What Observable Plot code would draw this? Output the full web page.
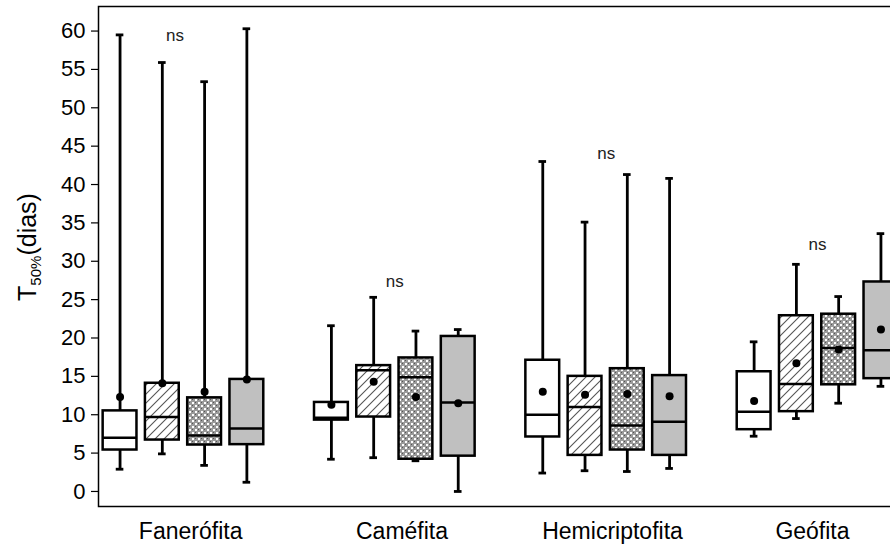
<!DOCTYPE html>
<html><head><meta charset="utf-8">
<script src="https://cdn.jsdelivr.net/npm/d3@7"></script>
<script src="https://cdn.jsdelivr.net/npm/@observablehq/plot@0.6"></script>
<style>
html,body{margin:0;padding:0;background:#fff;overflow:hidden;width:890px;height:544px;}
#chart svg{overflow:hidden;display:block;}
</style>
</head><body>
<svg width="0" height="0" style="position:absolute">
<defs>
<pattern id="hatch" patternUnits="userSpaceOnUse" width="9" height="9">
  <rect width="9" height="9" fill="white"/>
  <path d="M-1,1 l2,-2 M0,9 l9,-9 M8,10 l2,-2" stroke="#555" stroke-width="1.1"/>
</pattern>
<pattern id="dots" patternUnits="userSpaceOnUse" width="6" height="6">
  <rect width="6" height="6" fill="#9a9a9a"/>
  <rect x="0" y="0" width="2" height="2" fill="#ffffff"/>
  <rect x="3" y="3" width="2" height="2" fill="#ffffff"/>
  <rect x="3" y="0" width="1" height="1" fill="#555"/>
  <rect x="0" y="3" width="1" height="1" fill="#555"/>
</pattern>
</defs></svg>
<div id="chart"></div>
<script>
const groups = ["Fanerófita", "Caméfita", "Hemicriptofita", "Geófita"];
const series = ["s1", "s2", "s3", "s4"];
const whiskerLow  = [[2.9, 4.9, 3.4, 1.2], [4.2, 4.4, 4.0, 0.0], [2.4, 2.7, 2.6, 3.0], [7.2, 9.5, 11.5, 13.7]];
const q1          = [[5.4, 6.7, 6.05, 6.1], [9.3, 9.7, 4.2, 4.6], [7.1, 4.7, 5.4, 4.7], [8.05, 10.4, 13.9, 14.7]];
const median      = [[7.0, 9.7, 7.3, 8.2], [9.6, 15.8, 14.9, 11.6], [10.0, 11.0, 8.6, 9.1], [10.4, 14.0, 18.7, 18.4]];
const q3          = [[10.5, 14.1, 12.2, 14.6], [11.6, 16.4, 17.4, 20.2], [17.1, 15.0, 16.0, 15.1], [15.6, 22.9, 23.1, 27.3]];
const whiskerHigh = [[59.5, 55.9, 53.4, 60.3], [21.6, 25.3, 20.9, 21.1], [43.0, 35.1, 41.3, 40.8], [19.5, 29.6, 25.4, 33.6]];
const means       = [[12.3, 14.1, 13.0, 14.6], [11.3, 14.3, 12.3, 11.5], [13.0, 12.6, 12.7, 12.4], [11.8, 16.7, 18.5, 21.1]];
const nsText = ["ns", "ns", "ns", "ns"];
const nsY = [59.4, 27.3, 44.0, 32.2];
const nsPos = [1.3, 1.5, 1.5, 1.5];          // position inside group (series units)
const labelPos = [1.67, 1.67, 1.65, 1.38];   // group label position inside group
const yTicks = [0, 5, 10, 15, 20, 25, 30, 35, 40, 45, 50, 55, 60];

const fills = {s1: "white", s2: "url(#hatch)", s3: "url(#dots)", s4: "#c0c0c0"};
const slotsPerGroup = 5;

const rows = [];
groups.forEach((g, gi) => series.forEach((s, si) => rows.push({
  group: g, s, slot: gi * slotsPerGroup + si,
  lo: whiskerLow[gi][si], q1: q1[gi][si], med: median[gi][si],
  q3: q3[gi][si], hi: whiskerHigh[gi][si], mean: means[gi][si]
})));
const nsRows = groups.map((g, gi) => ({x: gi * slotsPerGroup + nsPos[gi], y: nsY[gi], t: nsText[gi]}));
const tickX = groups.map((g, gi) => gi * slotsPerGroup + labelPos[gi]);

const hw = 0.4, cap = 0.09;
const chart = Plot.plot({
  width: 890, height: 544,
  marginLeft: 98, marginRight: -12, marginTop: 6, marginBottom: 38,
  style: {fontFamily: "'Liberation Sans', Arial, sans-serif", color: "black", background: "white"},
  x: {domain: [-0.51, 18.51], axis: null},
  y: {domain: [-1.96, 63.2], axis: null},
  color: {type: "identity"},
  marks: [
    Plot.ruleX(rows, {x: "slot", y1: "lo", y2: "hi", stroke: "black", strokeWidth: 2.8}),
    Plot.ruleY(rows, {y: "lo", x1: d => d.slot - cap, x2: d => d.slot + cap, stroke: "black", strokeWidth: 2.8}),
    Plot.ruleY(rows, {y: "hi", x1: d => d.slot - cap, x2: d => d.slot + cap, stroke: "black", strokeWidth: 2.8}),
    Plot.rect(rows, {x1: d => d.slot - hw, x2: d => d.slot + hw, y1: "q1", y2: "q3",
      fill: d => fills[d.s], stroke: "black", strokeWidth: 2.5}),
    Plot.ruleY(rows, {y: "med", x1: d => d.slot - hw, x2: d => d.slot + hw, stroke: "black", strokeWidth: 2.5}),
    Plot.dot(rows, {x: "slot", y: "mean", r: 4, fill: "black", stroke: "none"}),
    Plot.text(nsRows, {x: "x", y: "y", text: "t", fontSize: 17, fill: "#222"}),
    Plot.axisY({ticks: yTicks, tickSize: 7, tickPadding: 6, fontSize: 22, label: null, strokeWidth: 1.2}),
    Plot.axisX({ticks: tickX, tickFormat: (d, i) => groups[i], tickSize: 0, tickPadding: 16, fontSize: 23, label: null, style: {letterSpacing: "0.8px"}}),
    Plot.frame({stroke: "black", strokeWidth: 1.5})
  ]
});
document.getElementById("chart").appendChild(chart);

// y-axis title with subscript
const svg = d3.select(chart);
const t = svg.append("text")
  .attr("transform", "translate(36,247) rotate(-90)")
  .attr("text-anchor", "middle")
  .attr("font-family", "'Liberation Sans', Arial, sans-serif")
  .attr("font-size", 25)
  .attr("fill", "black");
t.append("tspan").text("T");
t.append("tspan").attr("font-size", 15).attr("dy", 5).text("50%");
t.append("tspan").attr("dy", -5).text("(dias)");
</script>
</body></html>
